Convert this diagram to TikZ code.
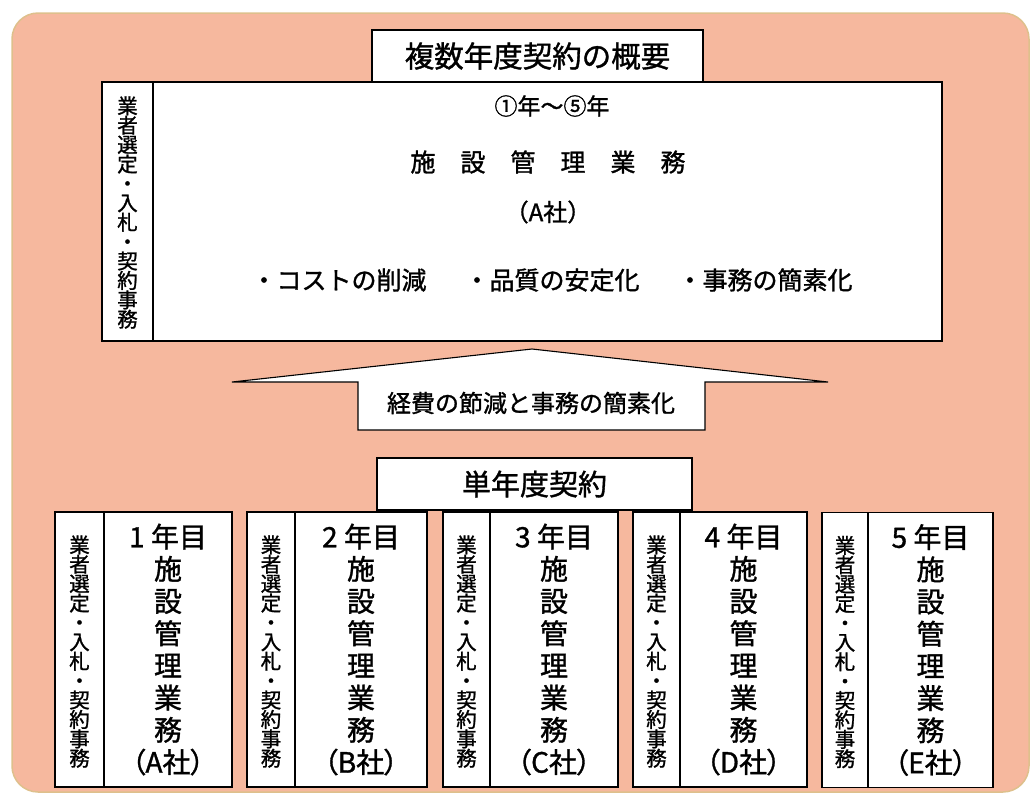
\documentclass[tikz,border=0pt]{standalone}
\usepackage{fontspec}
\setmainfont{Noto Sans CJK JP}[FakeBold=1.2]
\definecolor{salmon}{RGB}{246,184,158}
\definecolor{rim}{RGB}{222,192,140}
\tikzset{
  bg/.style={draw=rim, line width=1.5pt, fill=salmon, rounded corners=26pt},
  box/.style={draw=black, line width=1.3pt, fill=white, inner sep=0pt, outer sep=0pt, rectangle},
  vtext/.style={inner sep=0pt, align=center, font=\fontsize{20.5}{19.4}\selectfont},
  bigcol/.style={box, align=center, font=\fontsize{28}{32.2}\selectfont},
  lbl/.style={inner sep=0pt, align=center},
  arrowshape/.style={draw=black, line width=1.1pt, fill=white, line join=miter},
}
\newcommand{\gyousha}{業\\者\\選\\定\\・\\入\\札\\・\\契\\約\\事\\務}
\newcommand{\shisetsu}[2]{#1\\施\\設\\管\\理\\業\\務\\{\addfontfeatures{RawFeature=+palt}（#2社）}}
\begin{document}
\begin{tikzpicture}[x=1pt,y=-1pt]
\useasboundingbox (0,0) rectangle (1033,796);
\path[bg] (12,13) rectangle (1029,792);

% top title
\node[box, minimum width=331pt, minimum height=52pt, font=\fontsize{29.5}{32}\selectfont] (title) at (537.5,56) {複数年度契約の概要};

% top main block
\node[box, minimum width=51pt, minimum height=259pt] (topside) at (127.5,211.5) {};
\node[vtext] (topsidetext) at ([yshift=-1pt]topside.center) {\gyousha};
\node[box, minimum width=789pt, minimum height=259pt] (topmain) at (547.5,211.5) {};
\node[lbl, font=\fontsize{23}{25}\selectfont] (years) at (552,106) {①年〜⑤年};
\node[lbl, font=\fontsize{25}{27}\selectfont] (facility) at (548,162) {施　設　管　理　業　務};
\node[lbl, font=\fontsize{24}{26}\selectfont] (companyA) at (548,212) {（A社）};
\node[lbl, font=\fontsize{25}{27}\selectfont] (merits) at (552,280) {・コストの削減\hspace{38pt}・品質の安定化\hspace{38pt}・事務の簡素化};

% block arrow
\path[arrowshape] (358,430) -- (358,382) -- (232,382) -- (532,349) -- (828,382) -- (705,382) -- (705,430) -- cycle;
\node[lbl, font=\fontsize{24}{26}\selectfont] (arrowtext) at (531,403) {経費の節減と事務の簡素化};

% single-year title
\node[box, minimum width=315pt, minimum height=52pt, font=\fontsize{29}{30}\selectfont] (single) at (534.5,484) {単年度契約};

% five yearly boxes
\node[box, minimum width=49pt, minimum height=275pt] (s1) at (79.5,649.5) {};
\node[vtext] (s1t) at ([yshift=-2pt]s1.center) {\gyousha};
\node[bigcol, minimum width=128pt, minimum height=275pt] (m1) at (168,649.5) {\shisetsu{1 年目}{A}};

\node[box, minimum width=48pt, minimum height=275pt] (s2) at (271,649.5) {};
\node[vtext] (s2t) at ([yshift=-2pt]s2.center) {\gyousha};
\node[bigcol, minimum width=132pt, minimum height=275pt] (m2) at (361,649.5) {\shisetsu{2 年目}{B}};

\node[box, minimum width=47pt, minimum height=275pt] (s3) at (466.5,649.5) {};
\node[vtext] (s3t) at ([yshift=-2pt]s3.center) {\gyousha};
\node[bigcol, minimum width=128pt, minimum height=275pt] (m3) at (554,649.5) {\shisetsu{3 年目}{C}};

\node[box, minimum width=47pt, minimum height=275pt] (s4) at (656.5,649.5) {};
\node[vtext] (s4t) at ([yshift=-2pt]s4.center) {\gyousha};
\node[bigcol, minimum width=127pt, minimum height=275pt] (m4) at (743.5,649.5) {\shisetsu{4 年目}{D}};

\node[box, minimum width=46pt, minimum height=275pt] (s5) at (845,650) {};
\node[vtext] (s5t) at ([yshift=-2pt]s5.center) {\gyousha};
\node[bigcol, minimum width=125pt, minimum height=275pt] (m5) at (930.5,650) {\shisetsu{5 年目}{E}};
\end{tikzpicture}
\end{document}
